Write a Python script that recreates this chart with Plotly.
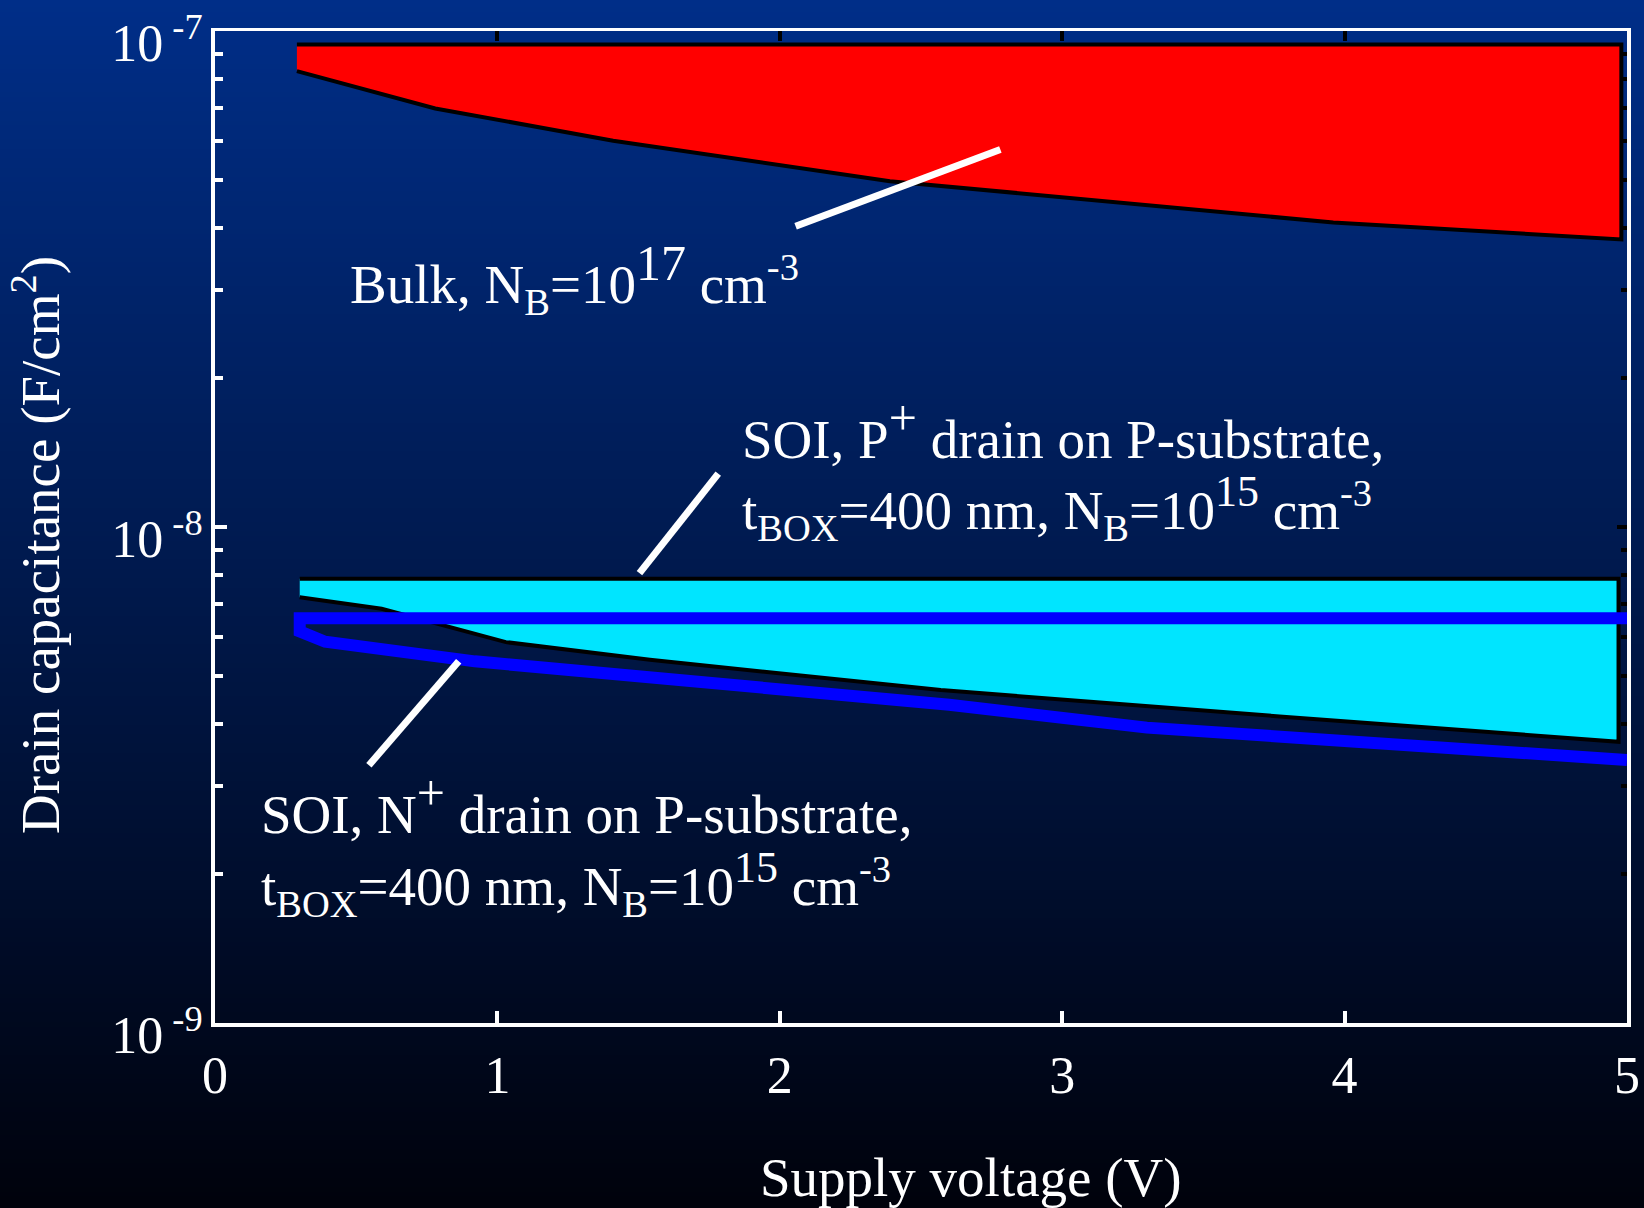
import base64
import struct
import zlib
import plotly.graph_objects as go

# ---------------- data ----------------
volt_ticks = [0, 1, 2, 3, 4, 5]
volt_labels = ["0", "1", "2", "3", "4", "5"]
cap_ticks = [1e-9, 1e-8, 1e-7]
cap_labels = ["10<sup> -9</sup>", "10<sup> -8</sup>", "10<sup> -7</sup>"]
cap_minor = [2e-9, 3e-9, 4e-9, 5e-9, 6e-9, 7e-9, 8e-9, 9e-9,
             2e-8, 3e-8, 4e-8, 5e-8, 6e-8, 7e-8, 8e-8, 9e-8]
top_ticks = [1, 2, 3, 4]

# Bulk, NB=1e17 (red band): lower boundary + flat upper boundary
bulk_v = [0.29, 0.78, 1.41, 2.39, 3.96, 4.98]
bulk_c = [8.30e-8, 6.98e-8, 6.01e-8, 4.98e-8, 4.11e-8, 3.80e-8]
bulk_top = 9.39e-8

# SOI, P+ drain (cyan band)
soip_v = [0.30, 0.59, 1.03, 1.54, 2.57, 3.77, 4.97]
soip_c = [7.22e-9, 6.84e-9, 5.86e-9, 5.40e-9, 4.69e-9, 4.15e-9, 3.69e-9]
soip_top = 7.86e-9

# SOI, N+ drain (blue outline)
soin_v = [0.30, 0.39, 0.92, 2.60, 3.30, 5.00]
soin_c = [6.16e-9, 5.87e-9, 5.36e-9, 4.38e-9, 3.94e-9, 3.39e-9]
soin_top = 6.55e-9

# leader lines
lead_bulk_v = [2.056, 2.781]
lead_bulk_c = [4.04e-8, 5.77e-8]
lead_p_v = [1.503, 1.782]
lead_p_c = [8.07e-9, 1.281e-8]
lead_n_v = [0.863, 0.545]
lead_n_c = [5.36e-9, 3.31e-9]

# ---------------- geometry / style ----------------
W, H = 1644, 1208
L, R, T, B = 215, 17, 31, 185
PW, PH = W - L - R, H - T - B
FONT = "Liberation Serif"
WHITE = "white"


def gradient_png(top, bottom, n=256):
    rows = b""
    for i in range(n):
        f = i / (n - 1)
        c = bytes(int(round(top[k] + (bottom[k] - top[k]) * f)) for k in range(3))
        rows += b"\x00" + c

    def chunk(tag, data):
        return (struct.pack(">I", len(data)) + tag + data +
                struct.pack(">I", zlib.crc32(tag + data) & 0xFFFFFFFF))

    png = b"\x89PNG\r\n\x1a\n"
    png += chunk(b"IHDR", struct.pack(">IIBBBBB", 1, n, 8, 2, 0, 0, 0))
    png += chunk(b"IDAT", zlib.compress(rows, 9))
    png += chunk(b"IEND", b"")
    return "data:image/png;base64," + base64.b64encode(png).decode()


def paper(px, py):
    return (px - L) / PW, (H - B - py) / PH


def big(s, size):
    return '<span style="font-size:%dpx">%s</span>' % (size, s)


fig = go.Figure()

# red band
fig.add_trace(go.Scatter(
    x=[bulk_v[0], bulk_v[-1]] + bulk_v[::-1],
    y=[bulk_top, bulk_top] + bulk_c[::-1],
    fill="toself", fillcolor="#ff0000", mode="lines",
    line=dict(color="black", width=4), hoverinfo="skip", showlegend=False))

# cyan band
fig.add_trace(go.Scatter(
    x=[soip_v[0], soip_v[-1]] + soip_v[::-1],
    y=[soip_top, soip_top] + soip_c[::-1],
    fill="toself", fillcolor="#00e5ff", mode="lines",
    line=dict(color="black", width=4), hoverinfo="skip", showlegend=False))

# blue outline
fig.add_trace(go.Scatter(
    x=[soin_v[-1], soin_v[0]] + soin_v,
    y=[soin_top, soin_top] + soin_c,
    mode="lines", line=dict(color="#0000ff", width=12),
    hoverinfo="skip", showlegend=False))

# leaders
for lv, lc in [(lead_bulk_v, lead_bulk_c), (lead_p_v, lead_p_c), (lead_n_v, lead_n_c)]:
    fig.add_trace(go.Scatter(x=lv, y=lc, mode="lines",
                             line=dict(color=WHITE, width=7),
                             hoverinfo="skip", showlegend=False))

# dummy trace for mirror axes
fig.add_trace(go.Scatter(x=[], y=[], xaxis="x2", yaxis="y2",
                         hoverinfo="skip", showlegend=False))

fig.update_layout(
    width=W, height=H, autosize=False,
    margin=dict(l=L, r=R, t=T, b=B, pad=0, autoexpand=False),
    paper_bgcolor="#00030c", plot_bgcolor="rgba(0,0,0,0)",
    font=dict(family=FONT, color=WHITE, size=52),
    xaxis=dict(range=[0, 5], tickvals=volt_ticks, ticktext=volt_labels,
               ticks="inside", ticklen=12, tickwidth=4, tickcolor=WHITE,
               showline=True, linecolor=WHITE, linewidth=4, automargin=False,
               showgrid=False, zeroline=False, ticklabelstandoff=4,
               ticklabeloverflow="allow",
               tickfont=dict(family=FONT, size=52, color=WHITE)),
    yaxis=dict(type="log", range=[-9, -7], tickvals=cap_ticks, ticktext=cap_labels,
               ticks="inside", ticklen=12, tickwidth=4, tickcolor=WHITE,
               showline=True, linecolor=WHITE, linewidth=4, automargin=False,
               showgrid=False, zeroline=False, ticklabelstandoff=-2,
               ticklabelshift=12, ticklabeloverflow="allow",
               tickfont=dict(family=FONT, size=52, color=WHITE),
               minor=dict(tickvals=cap_minor, ticks="inside", ticklen=8,
                          tickwidth=4, tickcolor=WHITE, showgrid=False)),
    xaxis2=dict(range=[0, 5], overlaying="x", side="top", anchor="y2",
                tickvals=top_ticks, ticks="inside", ticklen=10, tickwidth=4,
                tickcolor="black", showticklabels=False, automargin=False,
                showline=True, linecolor=WHITE, linewidth=3,
                showgrid=False, zeroline=False),
    yaxis2=dict(type="log", range=[-9, -7], overlaying="y", side="right", anchor="x2",
                tickvals=cap_ticks, ticks="inside", ticklen=10, tickwidth=4,
                tickcolor="black", showticklabels=False, automargin=False,
                showline=True, linecolor=WHITE, linewidth=4,
                showgrid=False, zeroline=False,
                minor=dict(tickvals=cap_minor, ticks="inside", ticklen=6,
                           tickwidth=4, tickcolor="black", showgrid=False)),
    images=[dict(source=gradient_png((0, 46, 136), (0, 2, 12)),
                 xref="paper", yref="paper", x=-L / PW, y=1 + T / PH,
                 sizex=W / PW, sizey=H / PH, sizing="stretch",
                 xanchor="left", yanchor="top", layer="below")],
)

anns = [
    ("Bulk, N<sub>B</sub>=10<sup>" + big("17", 50) + "</sup> cm<sup>-3</sup>", 348, 298),
    ("SOI, P<sup>" + big("+", 50) + "</sup> drain on P-substrate,", 740, 449),
    ("t<sub>BOX</sub>=400 nm, N<sub>B</sub>=10<sup>" + big("15", 44) + "</sup> cm<sup>-3</sup>", 740, 527),
    ("SOI, N<sup>" + big("+", 50) + "</sup> drain on P-substrate,", 259, 824),
    ("t<sub>BOX</sub>=400 nm, N<sub>B</sub>=10<sup>" + big("15", 44) + "</sup> cm<sup>-3</sup>", 259, 903),
]
for txt, px, base in anns:
    xp, yp = paper(px, base - 19)
    fig.add_annotation(text=txt, x=xp, y=yp, xref="paper", yref="paper",
                       xanchor="left", yanchor="middle", showarrow=False,
                       font=dict(family=FONT, size=55, color=WHITE))

xp, yp = paper(971, 1177)
fig.add_annotation(text="Supply voltage (V)", x=xp, y=yp, xref="paper", yref="paper",
                   xanchor="center", yanchor="middle", showarrow=False,
                   font=dict(family=FONT, size=55, color=WHITE))
xp, yp = paper(37, 545)
fig.add_annotation(text="Drain capacitance (F/cm<sup>2</sup>)", x=xp, y=yp,
                   xref="paper", yref="paper", textangle=-90,
                   xanchor="center", yanchor="middle", showarrow=False,
                   font=dict(family=FONT, size=55, color=WHITE))

fig.write_html("out.html",
               config={"displayModeBar": False},
               post_script="document.body.style.margin='0';"
                           "document.body.style.overflow='hidden';")
